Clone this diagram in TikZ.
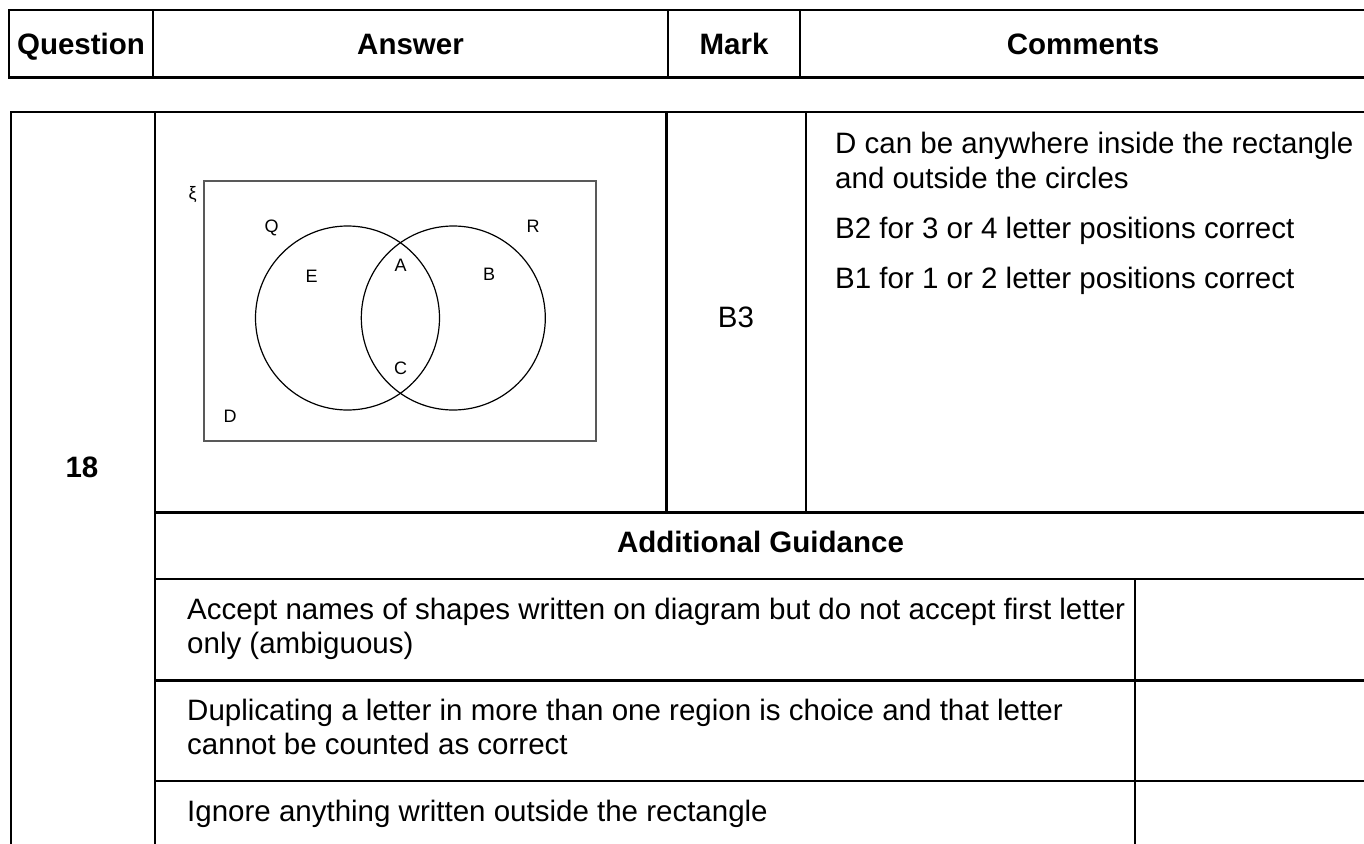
\documentclass[tikz,border=0pt]{standalone}
\usepackage{fontspec}
\setmainfont{Liberation Sans}
\newcommand\tfont{\fontsize{29.5}{35}\selectfont}
\newcommand\vfont{\fontsize{18}{21}\selectfont}
\begin{document}
\begin{tikzpicture}[x=1pt,y=-1pt,
  tline/.style={line width=2.4pt},
  thline/.style={line width=3pt},
  txt/.style={inner sep=0pt,font=\tfont,anchor=base west},
  hdr/.style={inner sep=0pt,font=\tfont\bfseries,anchor=base},
  mid/.style={inner sep=0pt,font=\tfont,anchor=base},
  vl/.style={inner sep=0pt,font=\vfont,anchor=base},
  vrect/.style={draw=black!65,line width=1.3pt},
  vcirc/.style={draw=black,line width=1.2pt}]
\useasboundingbox (0,0) rectangle (1364,843);
\fill[white] (0,0) rectangle (1364,843);
% header table
\draw[tline] (1370,10) -- (9,10) -- (9,77.5) -- (1370,77.5);
\draw[tline] (153,10) -- (153,77.5);
\draw[tline] (668,10) -- (668,77.5);
\draw[tline] (800,10) -- (800,77.5);
\node[hdr] (hq) at (81,54.5) {Question};
\node[hdr] (ha) at (410.5,54.5) {Answer};
\node[hdr] (hm) at (734,54.5) {Mark};
\node[hdr] (hc) at (1083,54.5) {Comments};
% main table
\draw[tline] (11,850) -- (11,112) -- (1370,112);
\draw[tline] (155,112) -- (155,850);
\draw[thline] (666,112) -- (666,512.5);
\draw[tline] (806,112) -- (806,512.5);
\draw[tline] (155,512.5) -- (1370,512.5);
\draw[tline] (155,579) -- (1370,579);
\draw[tline] (155,680.5) -- (1370,680.5);
\draw[tline] (155,781) -- (1370,781);
\draw[tline] (1135,579) -- (1135,850);
\node[hdr] (q18) at (82,477) {18};
\node[mid] (b3) at (736,327) {B3};
\node[hdr] (ag) at (760.5,552) {Additional Guidance};
% comments
\node[txt] (c1) at (835,153) {D can be anywhere inside the rectangle};
\node[txt] (c2) at (835,188) {and outside the circles};
\node[txt] (c3) at (835,238) {B2 for 3 or 4 letter positions correct};
\node[txt] (c4) at (835,288) {B1 for 1 or 2 letter positions correct};
% guidance
\node[txt] (g1) at (187,619) {Accept names of shapes written on diagram but do not accept first letter};
\node[txt] (g2) at (187,653) {only (ambiguous)};
\node[txt] (g3) at (187,720) {Duplicating a letter in more than one region is choice and that letter};
\node[txt] (g4) at (187,754) {cannot be counted as correct};
\node[txt] (g5) at (187,821) {Ignore anything written outside the rectangle};
% Venn diagram
\draw[vrect] (204,181) rectangle (596,441);
\draw[vcirc] (347.5,318) circle[radius=92pt];
\draw[vcirc] (453.3,318) circle[radius=92pt];
\node[inner sep=0pt,font=\vfont] (xi) at (192.7,195) {ξ};
\node[vl] (lq) at (271.7,232.5) {Q};
\node[vl] (lr) at (533,232.5) {R};
\node[vl] (le) at (311.7,282) {E};
\node[vl] (la) at (400.7,271.5) {A};
\node[vl] (lb) at (489,280.5) {B};
\node[vl] (lc) at (400.7,374.8) {C};
\node[vl] (ld) at (230,422) {D};
\end{tikzpicture}
\end{document}
